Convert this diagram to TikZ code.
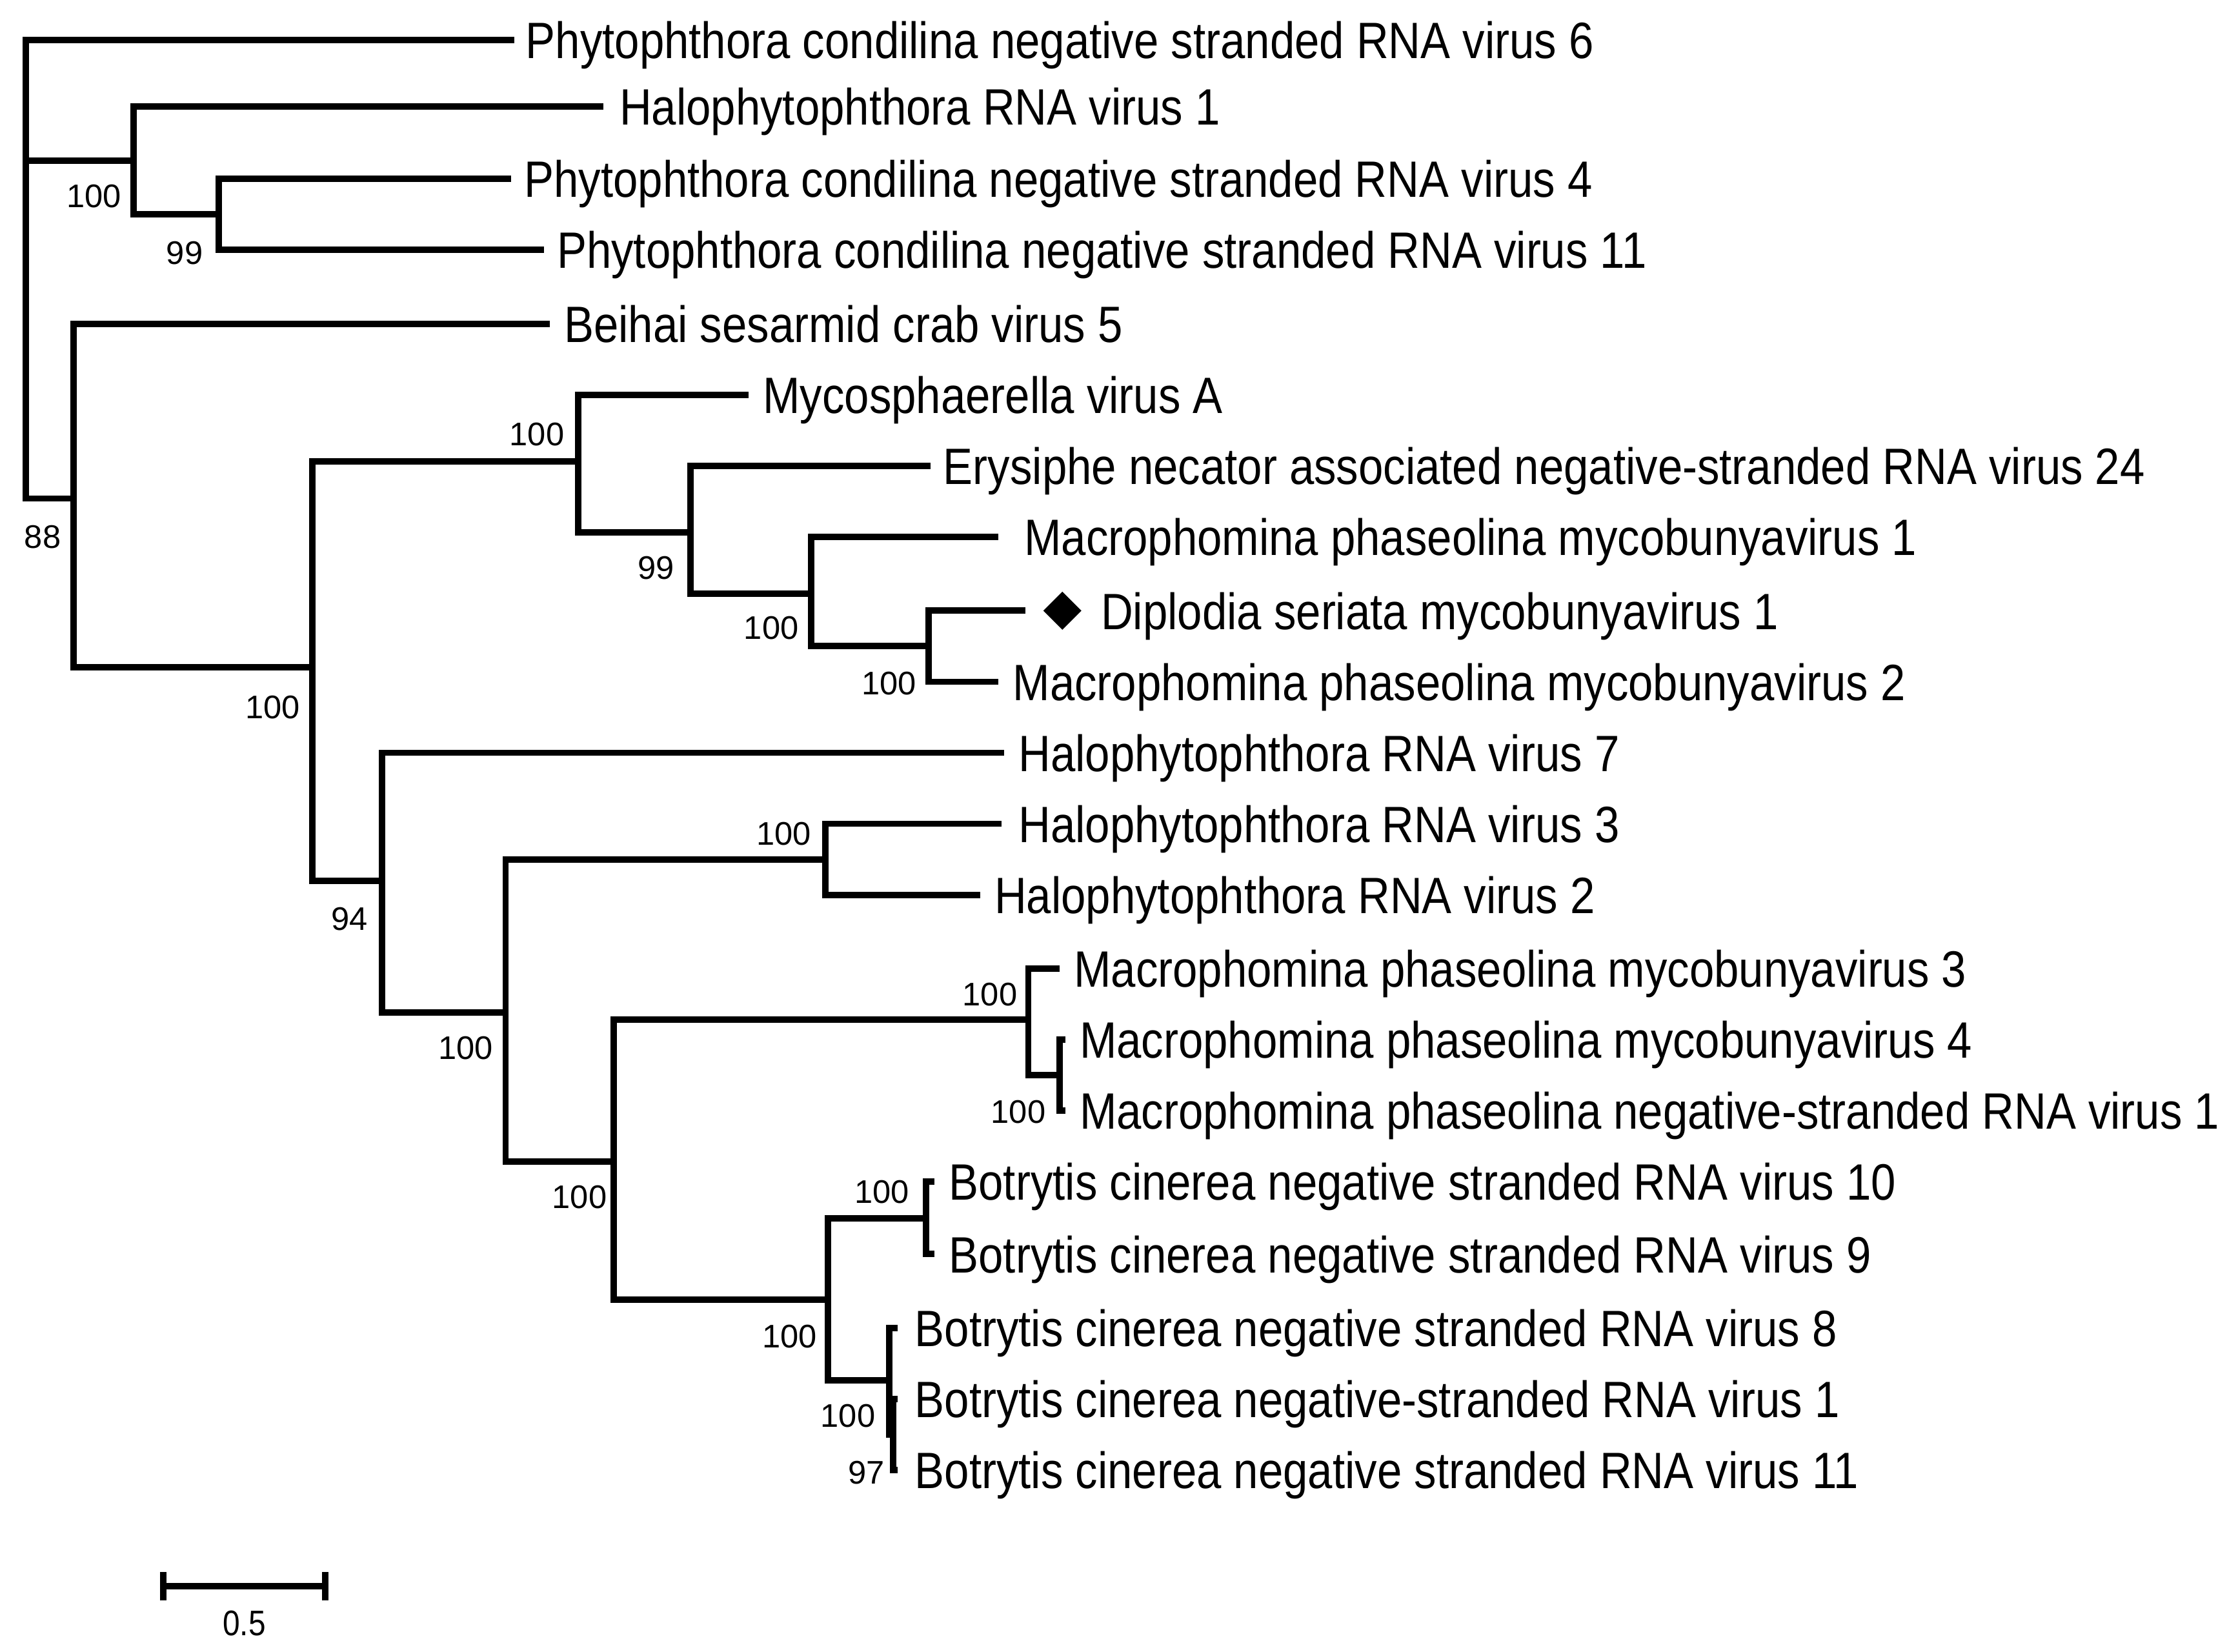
\documentclass[tikz,border=0pt]{standalone}
\usepackage{fontspec}
\setmainfont{Liberation Sans}
\usetikzlibrary{shapes.geometric}
\newcommand{\leaftext}[1]{\scalebox{0.87}[1]{#1}}
\begin{document}
\begin{tikzpicture}[x=1pt,y=-1pt,
  br/.style={line width=4.5pt,line join=miter},
  lf/.style={anchor=base west,inner sep=0pt,yshift=-13pt,font=\fontsize{36}{38}\selectfont},
  bs/.style={inner sep=0pt,font=\fontsize{23}{25}\selectfont}]
\useasboundingbox (0,0) rectangle (1568,1163);
% internal nodes
\coordinate (root) at (18,200);
\coordinate (n94) at (94,113);
\coordinate (n154) at (154,151);
\coordinate (n52) at (52,351);
\coordinate (n220) at (220,470);
\coordinate (n407) at (407,325);
\coordinate (n486) at (486,375);
\coordinate (n571) at (571,418);
\coordinate (n654) at (654,455);
\coordinate (n269) at (269,620);
\coordinate (n356) at (356,713);
\coordinate (n581) at (581,605);
\coordinate (n432) at (432,818);
\coordinate (n724) at (724,718);
\coordinate (n746) at (746,757);
\coordinate (n583) at (583,915);
\coordinate (n652) at (652,858);
\coordinate (n626) at (626,972);
\coordinate (n629) at (629,1010);
% tips
\coordinate (t1) at (362,28);
\coordinate (t2) at (425,75);
\coordinate (t3) at (360,126);
\coordinate (t4) at (383,176);
\coordinate (t5) at (387,228);
\coordinate (t6) at (527,278);
\coordinate (t7) at (655,328);
\coordinate (t8) at (703,378);
\coordinate (t9) at (722,430);
\coordinate (t10) at (703,480);
\coordinate (t11) at (707,530);
\coordinate (t12) at (705,580);
\coordinate (t13) at (690,630);
\coordinate (t14) at (746,682);
\coordinate (t15) at (750,732);
\coordinate (t16) at (750,782);
\coordinate (t17) at (658,832);
\coordinate (t18) at (658,883);
\coordinate (t19) at (632,935);
\coordinate (t20) at (632,985);
\coordinate (t21) at (632,1035);
% branches
\draw[br] (root) |- (t1); \draw[br] (root) |- (n94); \draw[br] (root) |- (n52);
\draw[br] (n94) |- (t2); \draw[br] (n94) |- (n154);
\draw[br] (n154) |- (t3); \draw[br] (n154) |- (t4);
\draw[br] (n52) |- (t5); \draw[br] (n52) |- (n220);
\draw[br] (n220) |- (n407); \draw[br] (n220) |- (n269);
\draw[br] (n407) |- (t6); \draw[br] (n407) |- (n486);
\draw[br] (n486) |- (t7); \draw[br] (n486) |- (n571);
\draw[br] (n571) |- (t8); \draw[br] (n571) |- (n654);
\draw[br] (n654) |- (t9); \draw[br] (n654) |- (t10);
\draw[br] (n269) |- (t11); \draw[br] (n269) |- (n356);
\draw[br] (n356) |- (n581); \draw[br] (n356) |- (n432);
\draw[br] (n581) |- (t12); \draw[br] (n581) |- (t13);
\draw[br] (n432) |- (n724); \draw[br] (n432) |- (n583);
\draw[br] (n724) |- (t14); \draw[br] (n724) |- (n746);
\draw[br] (n746) |- (t15); \draw[br] (n746) |- (t16);
\draw[br] (n583) |- (n652); \draw[br] (n583) |- (n626);
\draw[br] (n652) |- (t17); \draw[br] (n652) |- (t18);
\draw[br] (n626) |- (t19); \draw[br] (n626) |- (n629);
\draw[br] (n629) |- (t20); \draw[br] (n629) |- (t21);
% leaf labels
\node[lf] (l1) at (370,28) {\leaftext{Phytophthora condilina negative stranded RNA virus 6}};
\node[lf] (l2) at (436,75) {\leaftext{Halophytophthora RNA virus 1}};
\node[lf] (l3) at (369,126) {\leaftext{Phytophthora condilina negative stranded RNA virus 4}};
\node[lf] (l4) at (392,176) {\leaftext{Phytophthora condilina negative stranded RNA virus 11}};
\node[lf] (l5) at (397,228) {\leaftext{Beihai sesarmid crab virus 5}};
\node[lf] (l6) at (537,278) {\leaftext{Mycosphaerella virus A}};
\node[lf] (l7) at (664,328) {\leaftext{Erysiphe necator associated negative-stranded RNA virus 24}};
\node[lf] (l8) at (721,378) {\leaftext{Macrophomina phaseolina mycobunyavirus 1}};
\node[diamond,fill=black,inner sep=0pt,minimum size=27pt] (dm) at (748,430) {};
\node[lf] (l9) at (775,430) {\leaftext{Diplodia seriata mycobunyavirus 1}};
\node[lf] (l10) at (713,480) {\leaftext{Macrophomina phaseolina mycobunyavirus 2}};
\node[lf] (l11) at (717,530) {\leaftext{Halophytophthora RNA virus 7}};
\node[lf] (l12) at (717,580) {\leaftext{Halophytophthora RNA virus 3}};
\node[lf] (l13) at (700,630) {\leaftext{Halophytophthora RNA virus 2}};
\node[lf] (l14) at (756,682) {\leaftext{Macrophomina phaseolina mycobunyavirus 3}};
\node[lf] (l15) at (760,732) {\leaftext{Macrophomina phaseolina mycobunyavirus 4}};
\node[lf] (l16) at (760,782) {\leaftext{Macrophomina phaseolina negative-stranded RNA virus 1}};
\node[lf] (l17) at (668,832) {\leaftext{Botrytis cinerea negative stranded RNA virus 10}};
\node[lf] (l18) at (668,883) {\leaftext{Botrytis cinerea negative stranded RNA virus 9}};
\node[lf] (l19) at (644,935) {\leaftext{Botrytis cinerea negative stranded RNA virus 8}};
\node[lf] (l20) at (644,985) {\leaftext{Botrytis cinerea negative-stranded RNA virus 1}};
\node[lf] (l21) at (644,1035) {\leaftext{Botrytis cinerea negative stranded RNA virus 11}};
% bootstrap
\node[bs] (b1) at (30,378) {88};
\node[bs] (b2) at (66,138) {100};
\node[bs] (b3) at (130,178) {99};
\node[bs] (b4) at (192,498) {100};
\node[bs] (b5) at (378,306) {100};
\node[bs] (b6) at (462,400) {99};
\node[bs] (b7) at (543,442) {100};
\node[bs] (b8) at (626,481) {100};
\node[bs] (b9) at (246,647) {94};
\node[bs] (b10) at (328,738) {100};
\node[bs] (b11) at (552,587) {100};
\node[bs] (b12) at (408,843) {100};
\node[bs] (b13) at (697,700) {100};
\node[bs] (b14) at (717,783) {100};
\node[bs] (b15) at (556,941) {100};
\node[bs] (b16) at (621,839) {100};
\node[bs] (b17) at (597,997) {100};
\node[bs] (b18) at (610,1037) {97};
% scale bar
\coordinate (s1) at (115,1117); \coordinate (s2) at (229,1117);
\draw[br] (s1) -- (s2);
\draw[br] ([yshift=-10]s1) -- ([yshift=10]s1);
\draw[br] ([yshift=-10]s2) -- ([yshift=10]s2);
\node[bs,font=\fontsize{25}{27}\selectfont] (sl) at (172,1143) {\leaftext{0.5}};
\end{tikzpicture}
\end{document}
